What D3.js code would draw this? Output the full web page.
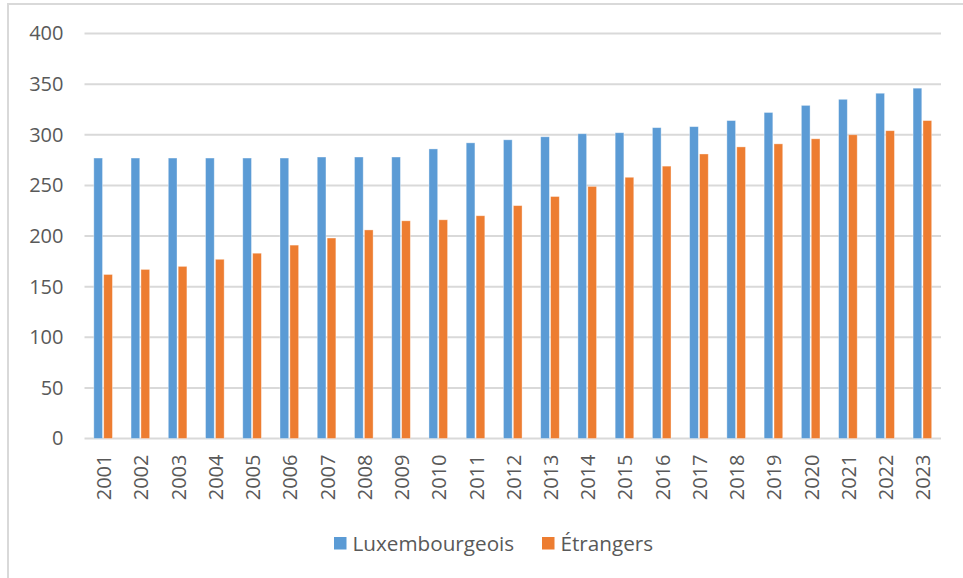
<!DOCTYPE html>
<html>
<head>
<meta charset="utf-8">
<script src="https://cdn.jsdelivr.net/npm/d3@7"></script>
<style>
  body { margin: 0; background: #fff; }
  text { font-family: "Open Sans", "Noto Sans", sans-serif; fill: #595959; }
</style>
</head>
<body>
<div id="chart"></div>
<script>
// data
var years = ["2001", "2002", "2003", "2004", "2005", "2006", "2007", "2008", "2009", "2010", "2011", "2012",
  "2013", "2014", "2015", "2016", "2017", "2018", "2019", "2020", "2021", "2022", "2023"];
var luxembourgeois = [277, 277, 277, 277, 277, 277, 278, 278, 278, 286, 292, 295,
  298, 301, 302, 307, 308, 314, 322, 329, 335, 341, 346];
var etrangers = [162, 167, 170, 177, 183, 191, 198, 206, 215, 216, 220, 230,
  239, 249, 258, 269, 281, 288, 291, 296, 300, 304, 314];
var seriesNames = ["Luxembourgeois", "Étrangers"];
var seriesColors = ["#5b9bd5", "#ed7d31"];
var yTicks = [0, 50, 100, 150, 200, 250, 300, 350, 400];

var svgWidth = 963;
var svgHeight = 578;
var margin = { top: 33.5, right: 22, bottom: 139.5, left: 84.5 };
var width = svgWidth - margin.left - margin.right;
var height = svgHeight - margin.top - margin.bottom;

var svg = d3.select("#chart")
  .append("svg")
  .attr("width", svgWidth)
  .attr("height", svgHeight);

// chart frame (only top and left edges are visible)
svg.append("rect")
  .attr("x", 8)
  .attr("y", 4)
  .attr("width", 1000)
  .attr("height", 1000)
  .attr("fill", "none")
  .attr("stroke", "#d9d9d9")
  .attr("stroke-width", 2);

var chartGroup = svg.append("g")
  .attr("transform", `translate(${margin.left}, ${margin.top})`);

var rows = years.map(function(y, i) {
  return { year: y, values: [luxembourgeois[i], etrangers[i]] };
});

var x0 = d3.scaleBand()
  .domain(years)
  .range([0, width])
  .paddingInner(0.5)
  .paddingOuter(0.25);

var x1 = d3.scaleBand()
  .domain([0, 1])
  .range([0, x0.bandwidth()])
  .paddingInner(0.12);

var y = d3.scaleLinear()
  .domain([0, 400])
  .range([height, 0]);

// gridlines
chartGroup.selectAll(".grid")
  .data(yTicks)
  .enter()
  .append("line")
  .attr("x1", 0)
  .attr("x2", width)
  .attr("y1", d => y(d))
  .attr("y2", d => y(d))
  .attr("stroke", "#d9d9d9")
  .attr("stroke-width", 2);

// bars
var groups = chartGroup.selectAll(".year")
  .data(rows)
  .enter()
  .append("g")
  .attr("transform", d => `translate(${x0(d.year)}, 0)`);

groups.selectAll("rect")
  .data(d => d.values)
  .enter()
  .append("rect")
  .attr("x", (d, i) => x1(i))
  .attr("y", d => y(d))
  .attr("width", x1.bandwidth())
  .attr("height", d => height - y(d))
  .attr("fill", (d, i) => seriesColors[i])
  .attr("stroke", "#ffffff")
  .attr("stroke-opacity", 0.45)
  .attr("stroke-width", 0.8);

// axes
var leftAxis = d3.axisLeft(y).tickValues(yTicks).tickSize(0).tickPadding(21);
var bottomAxis = d3.axisBottom(x0).tickSize(0);

chartGroup.append("g")
  .call(leftAxis)
  .call(g => g.select(".domain").remove())
  .selectAll("text")
  .style("font-size", "20px")
  .style("fill", "#595959")
  .style("font-family", "\"Open Sans\", \"Noto Sans\", sans-serif");

chartGroup.append("g")
  .attr("transform", `translate(0, ${height})`)
  .call(bottomAxis)
  .call(g => g.select(".domain").remove())
  .selectAll("text")
  .attr("transform", "rotate(-90)")
  .attr("x", -16)
  .attr("y", 1)
  .attr("dy", "0.35em")
  .style("text-anchor", "end")
  .style("font-size", "20px")
  .style("fill", "#595959")
  .style("font-family", "\"Open Sans\", \"Noto Sans\", sans-serif");

// legend
var legendX = [334, 542];
var legend = svg.selectAll(".legend")
  .data(seriesNames)
  .enter()
  .append("g")
  .attr("transform", (d, i) => `translate(${legendX[i]}, 537)`);

legend.append("rect")
  .attr("width", 12.5)
  .attr("height", 12.5)
  .attr("fill", (d, i) => seriesColors[i]);

legend.append("text")
  .attr("x", 18.5)
  .attr("y", 6.5)
  .attr("dy", "0.35em")
  .style("font-size", "20.7px")
  .text(d => d);
</script>
</body>
</html>
